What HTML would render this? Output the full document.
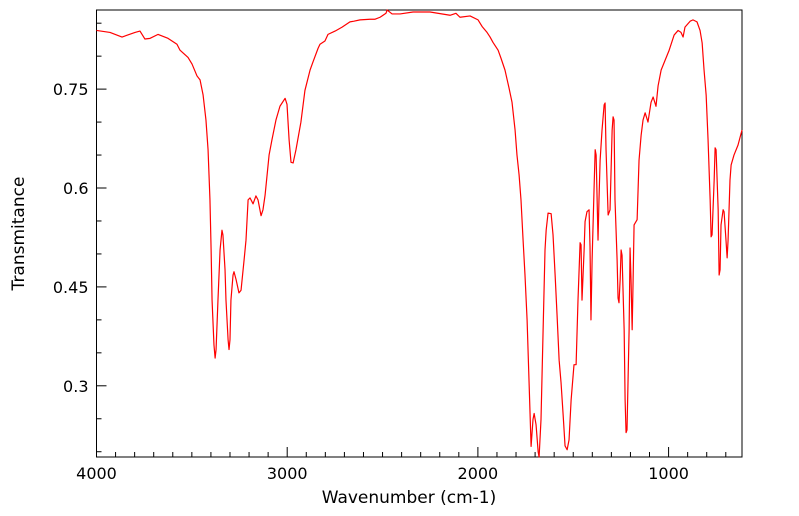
<!DOCTYPE html>
<html><head><meta charset="utf-8"><style>
html,body{margin:0;padding:0;background:#fff;}
svg{display:block;font-family:"DejaVu Sans","Liberation Sans",sans-serif;}
</style></head><body>
<svg id="chart" width="799" height="516"></svg>
<script>
const wavenumbers=[4000,3929,3866,3798,3772,3746,3719,3677,3625,3578,3562,3520,3499,3473,3457,3441,3426,3415,3410,3405,3399,3394,3384,3378,3373,3363,3352,3342,3337,3326,3321,3310,3305,3300,3295,3284,3279,3268,3253,3242,3226,3216,3205,3195,3179,3164,3153,3137,3127,3116,3095,3080,3059,3038,3011,3001,2990,2980,2969,2954,2928,2907,2880,2865,2838,2828,2802,2786,2749,2712,2671,2650,2618,2566,2539,2513,2482,2476,2450,2408,2340,2303,2251,2146,2115,2094,2041,1999,1978,1952,1936,1921,1894,1879,1858,1837,1821,1805,1795,1784,1774,1763,1753,1742,1732,1721,1711,1705,1695,1684,1679,1669,1658,1648,1642,1632,1616,1606,1595,1585,1574,1564,1553,1543,1532,1522,1511,1496,1485,1475,1464,1459,1454,1443,1438,1428,1417,1412,1407,1401,1391,1385,1380,1370,1365,1359,1349,1338,1333,1328,1317,1307,1296,1291,1286,1281,1270,1265,1260,1254,1249,1244,1233,1228,1223,1218,1207,1202,1197,1191,1186,1181,1165,1155,1144,1134,1123,1108,1092,1081,1066,1055,1039,1018,997,971,950,935,924,914,887,872,851,835,824,814,803,793,782,777,772,761,756,751,740,735,730,725,714,709,699,693,688,678,672,657,636,615];
const transmittance=[0.839,0.836,0.829,0.836,0.838,0.826,0.827,0.833,0.827,0.818,0.809,0.798,0.788,0.770,0.764,0.741,0.703,0.658,0.620,0.582,0.506,0.430,0.362,0.342,0.355,0.430,0.506,0.536,0.529,0.476,0.430,0.370,0.355,0.370,0.430,0.468,0.473,0.461,0.441,0.445,0.491,0.521,0.582,0.585,0.576,0.588,0.582,0.558,0.567,0.589,0.650,0.673,0.703,0.724,0.736,0.727,0.673,0.639,0.638,0.658,0.700,0.748,0.779,0.791,0.812,0.818,0.823,0.833,0.838,0.844,0.852,0.853,0.855,0.856,0.856,0.859,0.865,0.870,0.864,0.864,0.867,0.867,0.867,0.862,0.865,0.859,0.861,0.855,0.845,0.836,0.829,0.821,0.809,0.797,0.779,0.752,0.730,0.688,0.650,0.620,0.582,0.521,0.468,0.400,0.309,0.208,0.249,0.258,0.241,0.200,0.192,0.249,0.385,0.506,0.536,0.562,0.561,0.529,0.468,0.408,0.339,0.305,0.256,0.209,0.203,0.218,0.279,0.332,0.332,0.430,0.517,0.514,0.430,0.506,0.549,0.564,0.567,0.511,0.400,0.491,0.597,0.658,0.650,0.521,0.582,0.642,0.688,0.726,0.729,0.658,0.559,0.567,0.688,0.708,0.703,0.582,0.491,0.433,0.426,0.461,0.506,0.498,0.385,0.279,0.229,0.233,0.385,0.509,0.461,0.385,0.461,0.544,0.552,0.642,0.680,0.703,0.714,0.700,0.730,0.738,0.724,0.755,0.779,0.794,0.809,0.832,0.839,0.836,0.829,0.844,0.853,0.855,0.852,0.839,0.820,0.779,0.741,0.673,0.582,0.526,0.529,0.612,0.661,0.658,0.567,0.468,0.476,0.544,0.567,0.564,0.521,0.494,0.521,0.612,0.635,0.650,0.665,0.688];
const xTicks=[4000,3000,2000,1000];
const xTickLabels=["4000","3000","2000","1000"];
const yTicks=[0.3,0.45,0.6,0.75];
const yTickLabels=["0.3","0.45","0.6","0.75"];

const L=96.5,R=742,T=10,B=457;
const X0=4000,X1=615,Y0=0.192,Y1=0.870;
const xs=v=>L+(X0-v)/(X0-X1)*(R-L);
const ys=v=>B-(v-Y0)/(Y1-Y0)*(B-T);
const NS="http://www.w3.org/2000/svg";
const svg=document.getElementById('chart');
function mk(tag,attrs,parent){const e=document.createElementNS(NS,tag);for(const k in attrs)e.setAttribute(k,attrs[k]);(parent||svg).appendChild(e);return e;}

const frame=mk('rect',{x:L,y:T,width:R-L,height:B-T,fill:'none',stroke:'#000','stroke-width':1});



const ax=mk('g',{});


for(let w=4000;w>=700;w-=100){
  const x=xs(w);const major=(w%1000===0);
  const t=mk('line',{x1:x,x2:x,y1:B,y2:B-(major?10:5),stroke:'#000','stroke-width':1},ax);
  
  
}
xTicks.forEach((v,i)=>{
  const t=mk('text',{x:xs(v),y:B+22,'text-anchor':'middle','font-size':16,fill:'#000'},ax);
  t.textContent=xTickLabels[i];
  
  
});
const ay=mk('g',{});


for(let k=0;k<=14;k++){
  const v=0.2+k*0.05;if(v>Y1)break;
  const y=ys(v);const major=Math.abs((v*100)%15)<0.01||Math.abs((v*100)%15-15)<0.01;
  const t=mk('line',{x1:L,x2:L+(major?10:5),y1:y,y2:y,stroke:'#000','stroke-width':1},ay);
  
  
}
yTicks.forEach((v,i)=>{
  const t=mk('text',{x:L-8,y:ys(v)+6,'text-anchor':'end','font-size':16,fill:'#000'},ay);
  t.textContent=yTickLabels[i];
  
  
});
const xt=mk('text',{x:409,y:503,'text-anchor':'middle','font-size':17,fill:'#000'});
xt.textContent='Wavenumber (cm-1)';


const yt=mk('text',{x:0,y:0,'text-anchor':'middle','font-size':17,fill:'#000',transform:'translate(24,'+((T+B)/2)+') rotate(-90)'});
yt.textContent='Transmitance';



let d='';
wavenumbers.forEach((w,i)=>{d+=(i?'L':'M')+xs(w).toFixed(2)+','+ys(transmittance[i]).toFixed(2);});
const line=mk('path',{d:d,fill:'none',stroke:'#ff0000','stroke-width':1.2,'stroke-linejoin':'round'});


</script>
</body></html>
